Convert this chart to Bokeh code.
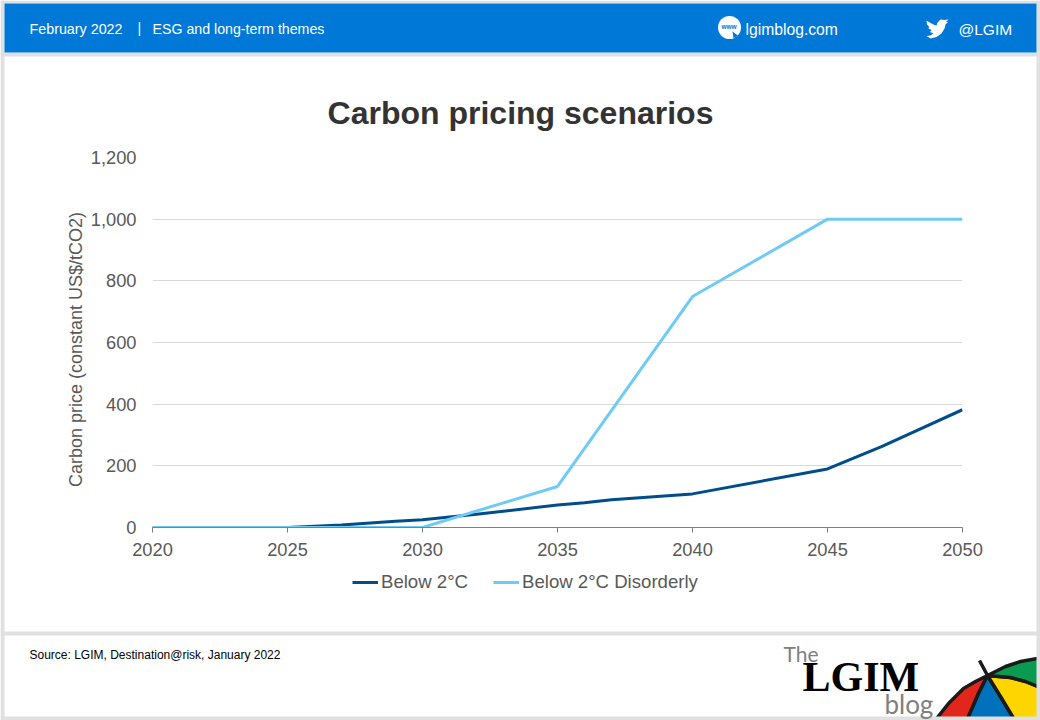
import math
from bokeh.plotting import figure
from bokeh.models import Legend, LegendItem, FixedTicker, NumeralTickFormatter, Range1d
from bokeh.core.properties import value
from bokeh.embed import file_html
from bokeh.resources import INLINE

years_a = [2020, 2025, 2027, 2029, 2030, 2032, 2035, 2036, 2037, 2040, 2045, 2047, 2050]
below_2c = [0, 0, 8, 20, 25, 43, 73, 80, 90, 109, 190, 262, 382]
years_b = [2020, 2025, 2030, 2033, 2035, 2040, 2045, 2050]
below_2c_disorderly = [0, 0, 0, 80, 133, 749, 1000, 1000]
x_ticks = [2020, 2025, 2030, 2035, 2040, 2045, 2050]
y_ticks = [0, 200, 400, 600, 800, 1000, 1200]

W, H = 1040, 720
SANS = "Liberation Sans"
GREY = "#e0e0e0"
BLUE = "#0078d7"
DARK = "#004d8c"
LIGHT = "#6ecbf5"

# ---------- page furniture: a figure whose data space is the page itself ----------
bg = figure(width=W, height=H, output_backend="svg", toolbar_location=None,
            x_range=Range1d(0, W), y_range=Range1d(H, 0),
            x_axis_location=None, y_axis_location=None,
            min_border=0, margin=0)
bg.grid.visible = False
bg.outline_line_color = None
bg.border_fill_color = "white"
bg.background_fill_color = "white"

def box(l, r, t, b, color):
    bg.quad(left=[l], right=[r], top=[t], bottom=[b], fill_color=color, line_color=None)

def poly(xs, ys, fill, line=None, lw=0):
    bg.patch(xs, ys, fill_color=fill, line_color=line, line_width=lw)

def text(x, y, s, size, color="white", font=SANS, style="normal", align="left", angle=0):
    bg.text([x], [y], text=[s], text_font=value(font), text_font_size=value(f"{size}px"),
            text_font_style=style, text_color=color, text_align=align,
            text_baseline="middle", angle=angle)

# umbrella (its overhang is hidden by the grey page edges drawn after it)
INK = "#1a1a1a"
poly([933, 948, 963, 975, 987, 978, 972, 968, 966], [722, 703, 688, 681, 675, 693, 707, 716, 722], "#e1261c", INK, 3.5)
poly([966, 968, 972, 978, 987, 1000, 1012, 1015], [722, 716, 707, 693, 675, 696, 716, 722], "#0072bc", INK, 3.5)
poly([987, 1010, 1025, 1042, 1042, 1015, 1012, 1000], [675, 677, 681, 688, 722, 722, 716, 696], "#ffd500", INK, 3.5)
poly([987, 1005, 1020, 1042, 1042, 1025, 1010], [675, 666, 661, 657, 688, 681, 677], "#0a9a50", INK, 3.5)
bg.line([979, 987], [660, 675], line_color=INK, line_width=3.5)

box(0, W, 0, 3, GREY)
box(0, W, 52, 56, GREY)
box(0, W, 631, 635, GREY)
box(0, W, 716, H, GREY)
box(0, 4, 0, H, GREY)
box(1036, W, 0, H, GREY)
box(4, 1036, 3, 52, BLUE)

text(29, 28, "February 2022", 14.3)
text(137, 27, "|", 14)
text(152, 28, "ESG and long-term themes", 14.2)
text(745, 29, "lgimblog.com", 15.7)
text(958, 29, "@LGIM", 15.5)
text(29, 654, "Source: LGIM, Destination@risk, January 2022", 12, color="#000000")
text(520, 112, "Carbon pricing scenarios", 32, color="#333333", style="bold", align="center")
text(75, 349, "Carbon price (constant US$/tCO2)", 18, color="#595959", align="center", angle=math.pi / 2)

# www icon
bg.circle([729], [27], radius=11.5, fill_color="white", line_color=None)
text(728.5, 26, "www", 6.5, color=BLUE, align="center", style="bold")
poly([732, 738, 735.8, 737.5, 736, 734.5, 733], [31, 35.5, 36, 38.5, 39, 36.8, 38], BLUE)
# bird icon
poly([926, 931, 934, 936, 937, 940, 944, 948, 945.5, 947.5, 945, 944, 941, 936, 930, 926, 930, 933, 929.5, 931, 928, 928.5, 926.5],
     [20, 23, 24.5, 25, 22, 19, 19.5, 19, 21.5, 21.5, 24, 28, 33, 36.5, 38, 35.5, 35, 33, 31.5, 29.5, 28, 26, 24], "white")

# LGIM logo
text(783, 653, "The", 21, color="#808080", font="Lato")
text(802, 676, "LGIM", 42, color="#000000", font="Liberation Serif", style="bold")
text(884, 703, "blog", 26, color="#808080", font="Lato")

# legend: key lines carry the series' style, and lie outside the page's visible range
k1 = bg.line([-20, -10], [-20, -10], line_color=DARK, line_width=3)
k2 = bg.line([-20, -10], [-20, -10], line_color=LIGHT, line_width=3)
legend = Legend(items=[LegendItem(label="Below 2°C", renderers=[k1]),
                       LegendItem(label="Below 2°C Disorderly", renderers=[k2])],
                orientation="horizontal", location=(352, 127),
                background_fill_alpha=0, border_line_alpha=0,
                label_text_font=SANS, label_text_font_size="18.6px", label_text_color="#595959",
                glyph_width=26, glyph_height=18, label_standoff=3, spacing=25,
                padding=0, margin=0)
bg.add_layout(legend, "center")

# ---------- the chart, laid over the page ----------
p = figure(width=W, height=H, output_backend="svg", toolbar_location=None,
           x_range=Range1d(2020, 2050), y_range=Range1d(0, 1200),
           min_border_left=152, min_border_right=W - 962,
           min_border_top=157, min_border_bottom=H - 527,
           margin=(-H, 0, 0, 0))
p.border_fill_color = None
p.outline_line_color = None
p.background_fill_color = None

p.xgrid.visible = False
p.ygrid.grid_line_color = "#d9d9d9"
p.ygrid.ticker = FixedTicker(ticks=y_ticks)

xa = p.xaxis[0]
xa.ticker = FixedTicker(ticks=x_ticks)
xa.major_tick_out = 5
xa.major_tick_in = 0
xa.minor_tick_line_color = None
xa.axis_line_color = "#808080"
xa.major_tick_line_color = "#808080"
xa.major_label_text_font = SANS
xa.major_label_text_font_size = "18.3px"
xa.major_label_text_color = "#595959"
xa.major_label_standoff = 10

ya = p.yaxis[0]
ya.ticker = FixedTicker(ticks=y_ticks)
ya.formatter = NumeralTickFormatter(format="0,0")
ya.axis_line_color = None
ya.major_tick_line_color = None
ya.minor_tick_line_color = None
ya.major_tick_out = 0
ya.major_tick_in = 0
ya.major_label_text_font = SANS
ya.major_label_text_font_size = "18.3px"
ya.major_label_text_color = "#595959"
ya.major_label_standoff = 16

p.line(years_a, below_2c, line_color=DARK, line_width=3)
p.line(years_b, below_2c_disorderly, line_color=LIGHT, line_width=3)

open("out.html", "w").write(file_html([bg, p], INLINE))
